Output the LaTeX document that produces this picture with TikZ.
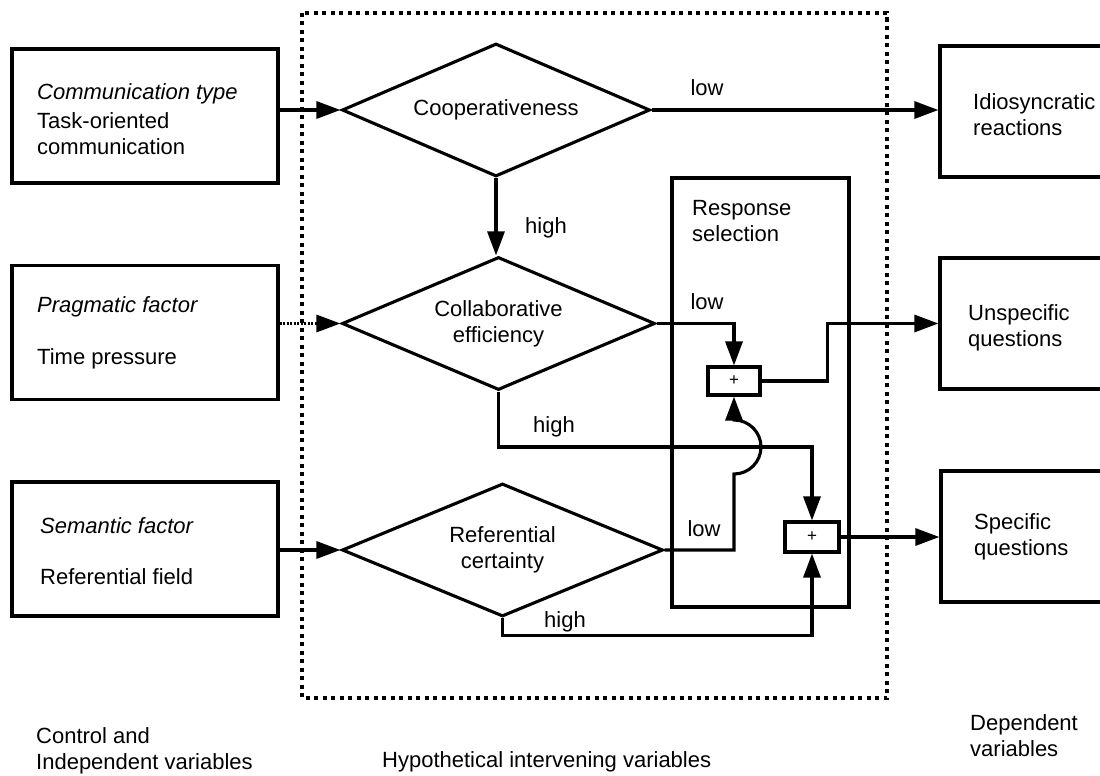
\documentclass[tikz,border=0pt]{standalone}
\usepackage{fontspec}
\setmainfont{Liberation Sans}
\usetikzlibrary{shapes.geometric,arrows.meta,calc}
\begin{document}
\begin{tikzpicture}[x=1pt,y=-1pt,
  every node/.style={font=\fontsize{22}{26}\selectfont,inner sep=0pt},
  arr/.style={line width=3.1pt,-{Triangle[length=24pt,width=17pt]}},
  box/.style={draw,line width=3.2pt,minimum width=266pt,minimum height=134pt},
  outbox/.style={draw,line width=3.2pt,minimum width=180pt,minimum height=131pt},
  dec/.style={draw,shape=diamond,line width=3.1pt,aspect=2.3,align=center,
              minimum height=133pt},
  plus/.style={draw,line width=3.1pt,font=\fontsize{17}{17}\selectfont,
               minimum width=52pt,minimum height=28pt},
  txt/.style={anchor=north west,align=left},
  lab/.style={anchor=center}
]
\useasboundingbox (0,0) rectangle (1100,776);
\clip (0,0) rectangle (1100,776);
\fill[white] (0,0) rectangle (1100,776);

% region of the intervening variables
\draw[line width=3.2pt,dash pattern=on 4pt off 4.5pt] (302,13) rectangle (887,698);

% control and independent variables
\node[box] (b1) at (145,116) {};
\node[txt,font=\fontsize{22}{26}\selectfont\itshape] (b1t) at (37,83) {Communication type};
\node[txt] (b1b) at (37,112) {Task-oriented\\communication};
\node[box] (b2) at (145,332.5) {};
\node[txt,font=\fontsize{22}{26}\selectfont\itshape] (b2t) at (37,296) {Pragmatic factor};
\node[txt] (b2b) at (37,348) {Time pressure};
\node[box] (b3) at (145,549) {};
\node[txt,font=\fontsize{22}{26}\selectfont\itshape] (b3t) at (40,517) {Semantic factor};
\node[txt] (b3b) at (40,568) {Referential field};

% intervening variables
\node[dec,minimum width=308pt] (d1) at (496,110) {Cooperativeness};
\node[dec,minimum width=313pt] (d2) at (498.5,323.5) {Collaborative\\efficiency};
\node[dec,minimum width=321pt] (d3) at (502.5,550) {Referential\\certainty};

\node[draw,line width=3.2pt,minimum width=177pt,minimum height=429pt] (rs) at (760.5,392.5) {};
\node[txt] (rst) at (692,200) {Response\\selection};
\node[plus] (p1) at (734,381) {+};
\node[plus,minimum width=54pt,minimum height=30pt] (p2) at (812,537) {+};

% dependent variables
\node[outbox] (r1) at (1030,111.5) {};
\node[txt] (r1t) at (973,93) {Idiosyncratic\\reactions};
\node[outbox] (r2) at (1030,323.5) {};
\node[txt] (r2t) at (968,304) {Unspecific\\questions};
\node[outbox] (r3) at (1031,536.5) {};
\node[txt] (r3t) at (974,513) {Specific\\questions};

% hop point where the two paths cross
\coordinate (hc) at (734,447);

% connectors
\draw[arr] (d1.west -| b1.east) -- (d1.west);
\draw[arr,dash pattern=on 2pt off 1.5pt] (d2.west -| b2.east) -- (d2.west);
\draw[arr] (d3.west -| b3.east) -- (d3.west);

\draw[arr] (d1.east) -- (d1.east -| r1.west);
\draw[arr] (d1.south) -- (d1.south |- d2.north);

\draw[arr] (d2.east) -| (p1.north);
\draw[arr] (p1.east) -- ++(66,0) |- (r2.west);
\draw[arr] (d2.south) -- (d2.south |- hc) -| (p2.north);

\draw[arr] (d3.east) -| ($(hc)+(0,27)$) arc[start angle=90,end angle=-90,radius=27] -- (p1.south);
\draw[arr] (d3.south) -- ++(0,17) -| (p2.south);
\draw[arr] (p2.east) -- (p2.east -| r3.west);

% branch labels
\node[lab] (l1) at (707,88) {low};
\node[lab] (h1) at (546,228) {high};
\node[lab] (l2) at (707,302) {low};
\node[lab] (h2) at (554,427) {high};
\node[lab] (l3) at (704,529) {low};
\node[lab] (h3) at (565,622) {high};

% column captions
\node[txt] (c1) at (36,727) {Control and\\Independent variables};
\node[txt] (c2) at (382,751) {Hypothetical intervening variables};
\node[txt] (c3) at (970,714) {Dependent\\variables};
\end{tikzpicture}
\end{document}
